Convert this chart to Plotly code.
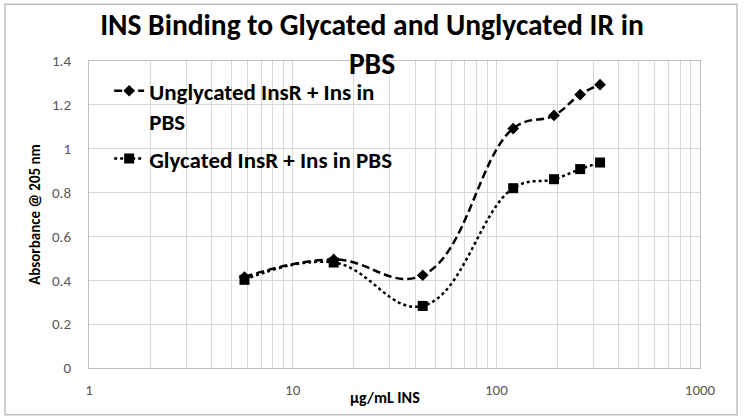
import plotly.graph_objects as go

# Data
conc = [5.8, 15.9, 43.5, 121, 192, 258, 323]          # µg/mL INS
unglycated = [0.415, 0.495, 0.423, 1.092, 1.152, 1.247, 1.292]
glycated = [0.402, 0.481, 0.283, 0.820, 0.861, 0.907, 0.937]

name_ung = "Unglycated InsR + Ins in<br>PBS"
name_gly = "Glycated InsR + Ins in PBS"
title_text = "INS Binding to Glycated and Unglycated IR in<br>PBS"
x_title = "µg/mL INS"
y_title = "Absorbance @ 205 nm"

x_tickvals = [m * 10 ** e for e in range(0, 3) for m in range(1, 10)] + [1000]
x_ticktext = [str(v) if v in (1, 10, 100, 1000) else "" for v in x_tickvals]

FONT = "Carlito, Lato, 'Open Sans', sans-serif"

fig = go.Figure()
fig.add_trace(go.Scatter(
    x=conc, y=unglycated, name=name_ung, mode="lines+markers", legendgroup="a",
    line=dict(color="black", width=2.5, dash="8px,4px", shape="spline", smoothing=1.2),
    marker=dict(symbol="diamond", size=9, color="black"),
))
fig.add_trace(go.Scatter(
    x=conc, y=glycated, name=name_gly, mode="lines+markers", legendgroup="b",
    line=dict(color="black", width=2.5, dash="dot", shape="spline", smoothing=1.2),
    marker=dict(symbol="square", size=10, color="black"),
))

fig.update_layout(
    width=744, height=420,
    margin=dict(l=89, r=44, t=61, b=52),
    paper_bgcolor="white", plot_bgcolor="white",
    font=dict(family=FONT, size=15, color="#595959"),
    title=dict(text="<b>" + title_text + "</b>", x=0.5, xanchor="center",
               y=0.916, yanchor="top", yref="container",
               font=dict(family=FONT, size=29.5, color="black")),
    legend=dict(x=0.033, y=0.973, xanchor="left", yanchor="top",
                bgcolor="rgba(0,0,0,0)", valign="top",
                font=dict(family=FONT, size=23, color="black", weight="bold"),
                tracegroupgap=5),
    xaxis=dict(type="log", range=[0, 3], tickvals=x_tickvals, ticktext=x_ticktext,
               showgrid=True, gridcolor="#d9d9d9", gridwidth=1,
               showline=True, linecolor="#bfbfbf", linewidth=1, mirror=True,
               ticks="", zeroline=False, ticklabelstandoff=8),
    yaxis=dict(range=[0, 1.4], dtick=0.2, tick0=0,
               showgrid=True, gridcolor="#d9d9d9", gridwidth=1,
               showline=True, linecolor="#bfbfbf", linewidth=1, mirror=True,
               ticks="", zeroline=False, ticklabelstandoff=14,
               title=dict(text="<b>" + y_title + "</b>", standoff=7,
                          font=dict(family=FONT, size=15, color="black"))),
    annotations=[dict(text="<b>" + x_title + "</b>", xref="paper", yref="paper",
                      x=0.4845, y=-0.0964, xanchor="center", yanchor="middle",
                      showarrow=False, font=dict(family=FONT, size=16, color="black"))],
    shapes=[dict(type="rect", xref="paper", yref="paper",
                 x0=-0.1375, x1=1.0606, y0=-0.152, y1=1.1846,
                 line=dict(color="#bfbfbf", width=1.5), layer="below")],
)

fig.write_html("out.html", config={"displayModeBar": False},
               post_script="document.body.style.margin='0';")
